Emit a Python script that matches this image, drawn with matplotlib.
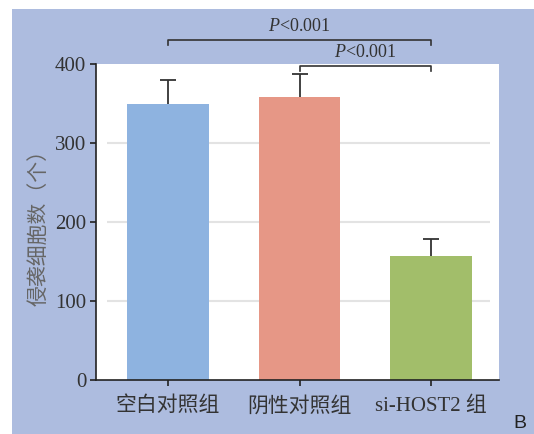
import matplotlib
matplotlib.use("Agg")
import matplotlib.pyplot as plt

# Data
groups = ["空白对照组", "阴性对照组", "si-HOST2 组"]
cells = [349, 358, 157]
cells_err = [31, 29, 21]
bar_colors = ["#8EB3E0", "#E69786", "#A2BE6A"]
y_ticks = [0, 100, 200, 300, 400]
p_labels = [r"$\mathit{P}$<0.001", r"$\mathit{P}$<0.001"]

plt.rcParams["mathtext.fontset"] = "custom"
plt.rcParams["mathtext.it"] = "Liberation Serif:italic"
plt.rcParams["mathtext.rm"] = "Liberation Serif"

serif = ["Liberation Serif", "Noto Sans CJK SC"]
cjk = ["Noto Sans CJK SC", "DejaVu Sans"]

fig = plt.figure(figsize=(5.34, 4.34), dpi=100, facecolor="white")

# Blue panel behind the plot
bg = fig.add_axes([12 / 534, 0, 1 - 12 / 534, 425 / 434], zorder=-1)
bg.set_facecolor("#ADBCDF")
bg.set_xticks([])
bg.set_yticks([])
for s in bg.spines.values():
    s.set_visible(False)

ax = fig.add_axes([96 / 534, 54 / 434, 403 / 534, 316 / 434])
ax.set_facecolor("white")

x = list(range(len(groups)))
tops = [v + e for v, e in zip(cells, cells_err)]
ax.hlines([100, 200, 300], -0.464, 2.449, colors="#E3E3E3", lw=1.5, zorder=1)
ax.bar(x, cells, width=0.62, color=bar_colors, zorder=2)
# upper-only error bars with a cap at the top
ax.vlines(x, cells, tops, colors="#333333", lw=1.3, zorder=3)
ax.plot(x, tops, ls="none", marker="_", markersize=12, markeredgewidth=1.3,
        color="#333333", zorder=3)

ax.set_xlim(-0.548, 2.517)
ax.set_ylim(0, 400)
ax.set_yticks(y_ticks)
ax.set_yticklabels([str(t) for t in y_ticks], family=serif, fontsize=15, color="#333333")
ax.set_xticks(x)
ax.set_xticklabels(groups, family=serif, fontsize=15, color="#333333")
ax.tick_params(axis="both", direction="out", length=4, width=1.2, color="#222222")
ax.tick_params(axis="x", pad=8)
ax.tick_params(axis="y", pad=3)
for s in ["top", "right"]:
    ax.spines[s].set_visible(False)
for s in ["left", "bottom"]:
    ax.spines[s].set_color("#222222")
    ax.spines[s].set_linewidth(1.2)

ax.set_ylabel("侵袭细胞数（个）", family=cjk, fontsize=15, color="#666666", labelpad=4)

# Significance brackets
def bracket(x0, x1, y, drop, label, ty):
    ax.plot([x0, x0, x1, x1], [y - drop, y, y, y - drop], color="#333333",
            lw=1.2, clip_on=False, zorder=4)
    ax.text((x0 + x1) / 2, ty, label, ha="center", va="center", family=serif,
            fontsize=13, color="#333333", clip_on=False)

bracket(0, 2, 430, 6, p_labels[0], 448)
bracket(1, 2, 397, 6, p_labels[1], 415)

fig.text(520 / 534, 1 - 424 / 434, "B", family=["Liberation Sans"], fontsize=14,
         ha="center", va="center", color="#222222")

fig.savefig("out.png", dpi=100, facecolor=fig.get_facecolor())
